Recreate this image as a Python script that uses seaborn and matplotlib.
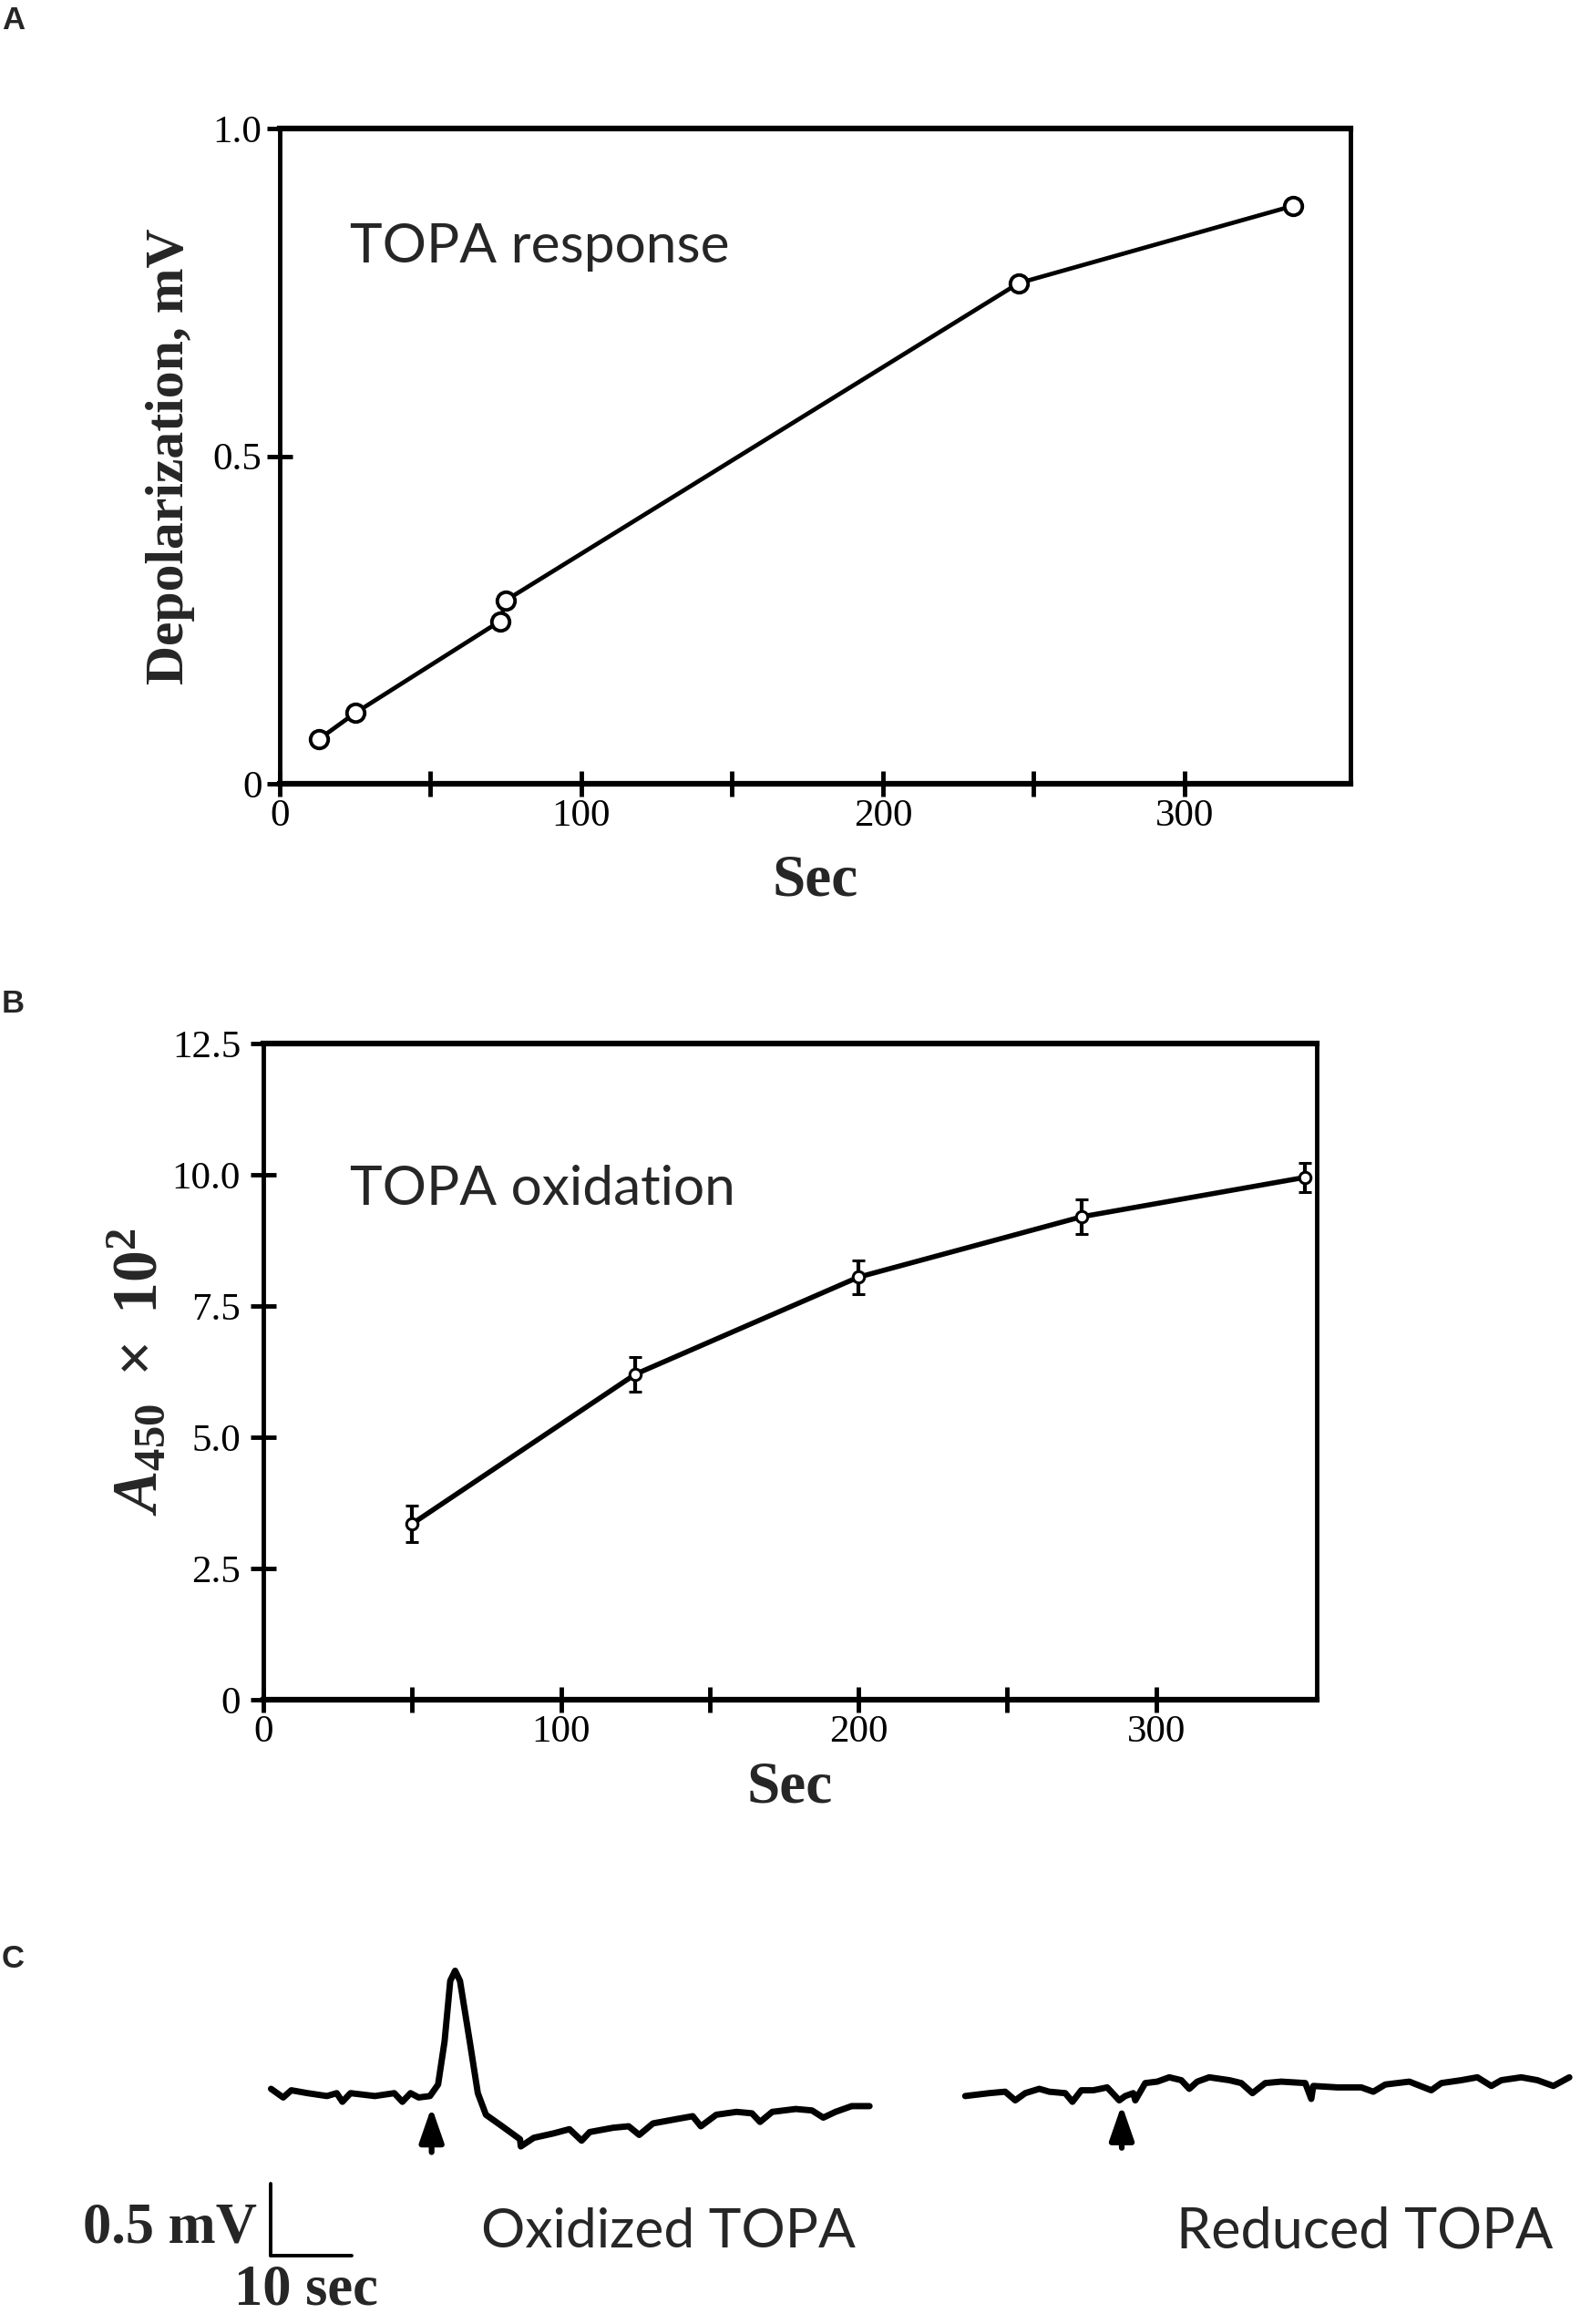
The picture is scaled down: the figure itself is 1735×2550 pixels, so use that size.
import matplotlib
matplotlib.use("Agg")
import matplotlib.pyplot as plt
import seaborn as sns

# ---------------- data ----------------
# Panel A: TOPA response (depolarization vs time)
a_sec = [13, 25, 73, 75, 245, 336]
a_mv = [0.068, 0.108, 0.248, 0.280, 0.764, 0.882]
a_xticks = [0, 50, 100, 150, 200, 250, 300]
a_xticklabels = ["0", "", "100", "", "200", "", "300"]
a_yticks = [0, 0.5, 1.0]
a_yticklabels = ["0", "0.5", "1.0"]

# Panel B: TOPA oxidation (A450 x 10^2 vs time)
b_sec = [50, 125, 200, 275, 350]
b_abs = [3.35, 6.20, 8.05, 9.20, 9.95]
b_err = [0.35, 0.33, 0.32, 0.33, 0.28]
b_xticks = [0, 50, 100, 150, 200, 250, 300]
b_xticklabels = ["0", "", "100", "", "200", "", "300"]
b_yticks = [0, 2.5, 5.0, 7.5, 10.0, 12.5]
b_yticklabels = ["0", "2.5", "5.0", "7.5", "10.0", "12.5"]

# Panel C: traces (time in s, potential in mV relative to baseline)
ox_t = [0.0, 1.5, 2.5, 4.5, 6.9, 8.1, 8.8, 9.8, 12.8, 15.2, 16.2, 17.2, 18.2,
        19.6, 20.6, 21.4, 22.1, 22.7, 23.3, 24.5, 25.5, 26.5, 28.5, 30.7, 30.8,
        32.4, 34.8, 36.8, 38.3, 39.3, 42.2, 44.1, 45.4, 47.1, 50.0, 52.0, 53.0,
        54.9, 57.4, 59.3, 60.3, 61.8, 64.7, 66.7, 68.1, 69.6, 71.6, 73.8]
ox_v = [0.03, -0.03, 0.02, 0.00, -0.02, 0.00, -0.06, 0.00, -0.02, 0.00, -0.06,
        0.00, -0.03, -0.02, 0.06, 0.36, 0.78, 0.85, 0.78, 0.36, 0.00, -0.15,
        -0.23, -0.32, -0.37, -0.31, -0.28, -0.25, -0.33, -0.27, -0.24, -0.23,
        -0.29, -0.21, -0.18, -0.16, -0.23, -0.15, -0.13, -0.14, -0.20, -0.13,
        -0.11, -0.12, -0.17, -0.13, -0.09, -0.09]
red_t = [0.0, 2.96, 4.93, 6.17, 7.40, 9.13, 10.36, 12.33, 13.22, 14.31, 15.79,
         17.51, 18.99, 19.73, 20.72, 20.97, 22.20, 23.68, 25.16, 26.64, 27.63,
         28.61, 30.09, 32.56, 34.04, 35.42, 37.00, 38.97, 41.93, 42.67, 42.92,
         45.88, 48.84, 50.32, 51.80, 54.76, 57.47, 58.71, 61.17, 63.15, 64.87,
         66.11, 68.57, 70.55, 72.52, 73.51, 74.49]
red_v = [-0.02, 0.00, 0.01, -0.05, 0.00, 0.03, 0.01, 0.00, -0.06, 0.02, 0.02,
         0.04, -0.05, -0.02, 0.00, -0.05, 0.07, 0.08, 0.11, 0.09, 0.03, 0.08,
         0.11, 0.09, 0.07, 0.00, 0.07, 0.08, 0.07, -0.04, 0.05, 0.04, 0.04,
         0.01, 0.06, 0.08, 0.02, 0.07, 0.09, 0.11, 0.05, 0.09, 0.11, 0.09,
         0.05, 0.08, 0.11]
# application arrows: time, tail (mV), tip (mV)
ox_arrow = (19.8, -0.41, -0.095)
red_arrow = (19.3, -0.38, -0.08)
scalebar_mv = 0.5
scalebar_sec = 10

# ---------------- style ----------------
sns.set_theme(style="ticks")
plt.rcParams["font.family"] = ["Liberation Serif", "DejaVu Serif"]
plt.rcParams["mathtext.fontset"] = "custom"
plt.rcParams["mathtext.rm"] = "Liberation Serif:bold"
plt.rcParams["mathtext.it"] = "Liberation Serif:italic:bold"
plt.rcParams["mathtext.bf"] = "Liberation Serif:bold"
plt.rcParams["axes.facecolor"] = "white"
plt.rcParams["figure.facecolor"] = "white"

W, H = 1735, 2550
fig = plt.figure(figsize=(W / 100, H / 100), dpi=100)


def px_axes(left, top, right, bottom):
    return fig.add_axes([left / W, 1 - bottom / H, (right - left) / W, (bottom - top) / H])


def style_axes(ax, ypad):
    for name, s in ax.spines.items():
        s.set_visible(True)
        s.set_color("black")
        s.set_linewidth(4.5 if name in ("top", "bottom") else 3.5)
    ax.tick_params(axis="both", which="major", direction="inout", length=20, width=3.5,
                   color="black", labelcolor="black", labelsize=31, top=False, right=False)
    ax.tick_params(axis="x", pad=2)
    ax.tick_params(axis="y", pad=ypad)
    ax.grid(False)


sans = ["Lato", "DejaVu Sans"]

# ---------------- Panel A ----------------
axA = px_axes(307, 141, 1482, 860)
sns.lineplot(x=a_sec, y=a_mv, ax=axA, color="black", lw=3.4, marker="o",
             markersize=14, markerfacecolor="white", markeredgecolor="black",
             markeredgewidth=2.8, estimator=None, sort=False)
axA.set_xlim(0, 355)
axA.set_ylim(0, 1.0)
axA.set_xticks(a_xticks)
axA.set_xticklabels(a_xticklabels)
axA.set_yticks(a_yticks)
axA.set_yticklabels(a_yticklabels)
style_axes(axA, 4)
axA.set_xlabel("Sec", fontsize=47, fontweight="bold")
axA.set_ylabel("Depolarization, mV", fontsize=43, fontweight="bold")
axA.xaxis.set_label_coords(0.5, -0.107)
axA.yaxis.set_label_coords(-0.079, 0.5)
axA.text(23.3, 0.796, "TOPA response", family=sans, fontsize=43.5, va="baseline", ha="left")

# ---------------- Panel B ----------------
axB = px_axes(289, 1145, 1445, 1865)
sns.lineplot(x=b_sec, y=b_abs, ax=axB, color="black", lw=4, estimator=None, sort=False)
axB.errorbar(b_sec, b_abs, yerr=b_err, fmt="o", color="black", ms=9,
             mfc="white", mec="black", mew=2.2, elinewidth=3, capsize=5, capthick=3)
axB.set_xlim(0, 354)
axB.set_ylim(0, 12.5)
axB.set_xticks(b_xticks)
axB.set_xticklabels(b_xticklabels)
axB.set_yticks(b_yticks)
axB.set_yticklabels(b_yticklabels)
style_axes(axB, 8)
axB.set_xlabel("Sec", fontsize=47, fontweight="bold")
axB.set_ylabel(r"$\mathit{A}_{450}\ \times\ 10^{2}$", fontsize=50)
axB.xaxis.set_label_coords(0.5, -0.093)
axB.yaxis.set_label_coords(-0.088, 0.5)
axB.text(29, 9.43, "TOPA oxidation", family=sans, fontsize=43.5, va="baseline", ha="left")

# ---------------- Panel C ----------------
red_offset = 85.6
axC = px_axes(0, 2130, W, H)
axC.set_xlim(-33.42, 161.53)
axC.set_ylim(-1.603, 1.055)
axC.axis("off")
sns.lineplot(x=ox_t, y=ox_v, ax=axC, color="black", lw=5, estimator=None, sort=False)
sns.lineplot(x=[t + red_offset for t in red_t], y=red_v, ax=axC, color="black", lw=5,
             estimator=None, sort=False)
for (t, tail, tip), off in ((ox_arrow, 0), (red_arrow, red_offset)):
    axC.annotate("", xy=(t + off, tip), xytext=(t + off, tail),
                 arrowprops=dict(arrowstyle="-|>,head_length=1.15,head_width=0.4",
                                 mutation_scale=20, lw=4.5, color="black",
                                 shrinkA=0, shrinkB=0))
# scale bar
sb_y0 = -1.13
axC.plot([0, 0], [sb_y0, sb_y0 + scalebar_mv], color="black", lw=2.8)
axC.plot([0, scalebar_sec], [sb_y0, sb_y0], color="black", lw=2.8)
axC.text(-1.7, -1.034, "0.5 mV", fontsize=45, fontweight="bold", ha="right", va="baseline")
axC.text(4.3, -1.465, "10 sec", fontsize=45, fontweight="bold", ha="center", va="baseline")
axC.text(49.0, -1.074, "Oxidized TOPA", family=sans, fontsize=43.5, ha="center", va="baseline")
axC.text(134.9, -1.074, "Reduced TOPA", family=sans, fontsize=44, ha="center", va="baseline")

# ---------------- panel letters ----------------
for letter, ytop in (("A", 6), ("B", 1085), ("C", 2133)):
    fig.text(2 / W, 1 - ytop / H, letter, family=["Liberation Sans", "DejaVu Sans"],
             fontsize=25, fontweight="bold", ha="left", va="top")

fig.savefig("out.png", dpi=100)
